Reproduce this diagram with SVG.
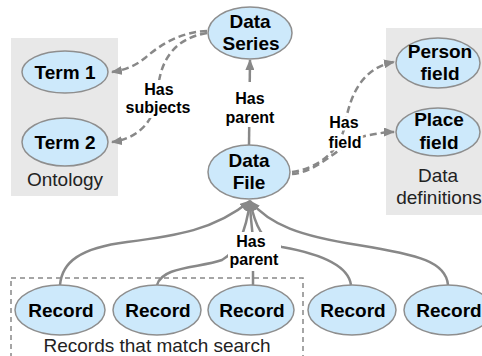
<svg xmlns="http://www.w3.org/2000/svg" width="482" height="356" viewBox="0 0 482 356">
<defs>
<style>
.box{fill:#e8e8e8}
.node ellipse{fill:#cde9fb;stroke:#8e8e8e;stroke-width:1.5}
.node text{font-family:"Liberation Sans",Arial,sans-serif;font-weight:bold;font-size:19px;fill:#000;text-anchor:middle}
.cap{font-family:"Liberation Sans",Arial,sans-serif;font-size:19px;fill:#222;text-anchor:middle}
.lbl{font-family:"Liberation Sans",Arial,sans-serif;font-weight:bold;font-size:16px;fill:#000;text-anchor:middle}
.halo{stroke:#fff;stroke-width:5;stroke-linejoin:round;paint-order:stroke}
.dash{fill:none;stroke:#888;stroke-width:2.5;stroke-dasharray:7,4}
.solid{fill:none;stroke:#888;stroke-width:2.5}
.bg{fill:#fff}
</style>
<marker id="ah" markerUnits="userSpaceOnUse" markerWidth="11" markerHeight="9" refX="10" refY="4.5" orient="auto">
<path d="M0,0 L11,4.5 L0,9 z" fill="#888"/>
</marker>
</defs>
<rect class="box" x="11" y="38" width="107" height="158"/>
<rect class="box" x="386" y="28" width="96" height="187"/>
<rect x="11" y="278" width="292" height="90" fill="none" stroke="#888" stroke-width="1.5" stroke-dasharray="5,4"/>
<text class="cap" x="65" y="186">Ontology</text>
<text class="cap" x="438" y="182">Data</text>
<text class="cap" x="439" y="204">definitions</text>
<text class="cap" x="157" y="352">Records that match search</text>
<g id="connectors">
<path class="dash" d="M207,31 C180,32 160,45 145,58 C135,66 125,70 112,72" marker-end="url(#ah)"/>
<path class="dash" d="M207,33 C175,38 160,60 158,90 C156,120 140,138 112,142" marker-end="url(#ah)"/>
<path class="solid" d="M249,145 L250,60" marker-end="url(#ah)"/>
<path class="dash" d="M292,172 C320,168 340,150 345,125 C350,95 362,68 394,62" marker-end="url(#ah)"/>
<path class="dash" d="M292,174 C320,172 345,140 365,136 C375,134 385,132 394,132" marker-end="url(#ah)"/>
<path class="solid" d="M60,285 C62,262 80,248 127,242 C175,236 215,230 250,201" marker-end="url(#ah)"/>
<path class="solid" d="M157,285 C162,266 200,268 222,260 C240,250 247,225 250,201" marker-end="url(#ah)"/>
<path class="solid" d="M253,285 L253,240 C252,225 250,215 250,201" marker-end="url(#ah)"/>
<path class="solid" d="M351,285 C348,262 310,252 282,247 C262,242 255,225 250,201" marker-end="url(#ah)"/>
<path class="solid" d="M448,285 C446,262 420,255 358,245 C300,236 270,225 250,201" marker-end="url(#ah)"/>
<rect class="bg" x="224" y="82" width="52" height="45"/>
<text class="lbl" x="250" y="104">Has</text>
<text class="lbl" x="250" y="123">parent</text>
<rect class="bg" x="124" y="80" width="69" height="38"/>
<text class="lbl" x="159" y="95">Has</text>
<text class="lbl" x="158" y="113">subjects</text>
<text class="lbl halo" x="344" y="128">Has</text>
<text class="lbl halo" x="345" y="148">field</text>
<rect class="bg" x="228" y="232" width="53" height="39"/>
<text class="lbl" x="251" y="247">Has</text>
<text class="lbl" x="254" y="265">parent</text>
</g>
<g id="term1" class="node"><ellipse cx="65" cy="72" rx="43" ry="21"/><text x="65" y="79">Term 1</text></g>
<g id="term2" class="node"><ellipse cx="65" cy="142" rx="43" ry="24"/><text x="65" y="149">Term 2</text></g>
<g id="dataseries" class="node"><ellipse cx="250" cy="33" rx="42" ry="26"/><text x="250" y="28">Data</text><text x="251" y="50">Series</text></g>
<g id="datafile" class="node"><ellipse cx="249" cy="172" rx="41" ry="27"/><text x="249" y="167">Data</text><text x="249" y="189">File</text></g>
<g id="personfield" class="node"><ellipse cx="438" cy="63" rx="42" ry="25"/><text x="440" y="58">Person</text><text x="440" y="80">field</text></g>
<g id="placefield" class="node"><ellipse cx="438" cy="132" rx="42" ry="24"/><text x="439" y="126">Place</text><text x="439" y="149">field</text></g>
<g id="record1" class="node"><ellipse cx="60" cy="310" rx="45" ry="25"/><text x="61" y="317">Record</text></g>
<g id="record2" class="node"><ellipse cx="157" cy="310" rx="44" ry="25"/><text x="158" y="317">Record</text></g>
<g id="record3" class="node"><ellipse cx="251" cy="310" rx="43" ry="25"/><text x="252" y="317">Record</text></g>
<g id="record4" class="node"><ellipse cx="352" cy="310" rx="44" ry="25"/><text x="353" y="317">Record</text></g>
<g id="record5" class="node"><ellipse cx="448" cy="310" rx="44" ry="25"/><text x="449" y="317">Record</text></g>
</svg>
